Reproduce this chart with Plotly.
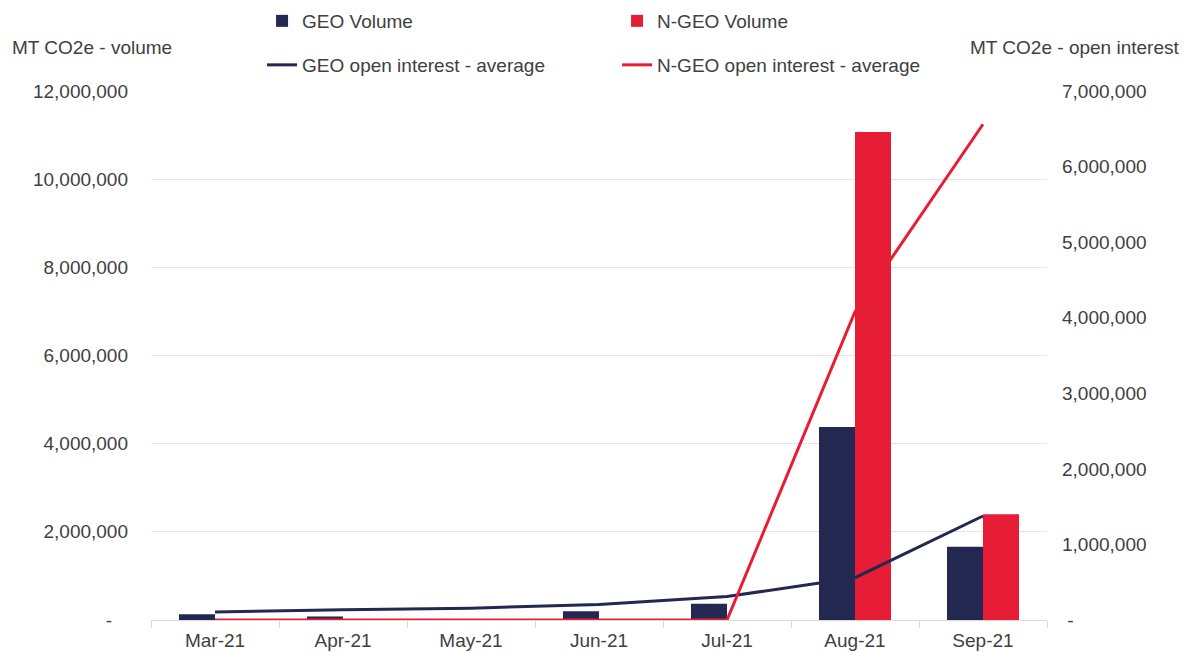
import plotly.graph_objects as go

months = ['Mar-21', 'Apr-21', 'May-21', 'Jun-21', 'Jul-21', 'Aug-21', 'Sep-21']

geo_volume = [130000, 80000, 0, 200000, 370000, 4380000, 1660000]
ngeo_volume = [0, 0, 0, 0, 0, 11070000, 2400000]

geo_oi_avg = [105000, 136000, 157000, 205000, 310000, 560000, 1376000]
ngeo_oi_avg = [0, 0, 0, 0, 0, 4080000, 6560000]

left_ticks = [0, 2000000, 4000000, 6000000, 8000000, 10000000, 12000000]
left_labels = ['-&nbsp;&nbsp;&nbsp;', '2,000,000', '4,000,000', '6,000,000', '8,000,000', '10,000,000', '12,000,000']
right_ticks = [0, 1000000, 2000000, 3000000, 4000000, 5000000, 6000000, 7000000]
right_labels = ['&nbsp;-', '1,000,000', '2,000,000', '3,000,000', '4,000,000', '5,000,000', '6,000,000', '7,000,000']

navy = '#232850'
red = '#e71d36'
txt = '#404040'
font_family = 'Liberation Sans, Arial, sans-serif'

fig = go.Figure()

fig.add_trace(go.Bar(x=months, y=geo_volume, name='GEO Volume',
                     marker=dict(color=navy, line=dict(width=0)), legend='legend'))
fig.add_trace(go.Bar(x=months, y=ngeo_volume, name='N-GEO Volume',
                     marker=dict(color=red, line=dict(width=0)), legend='legend'))

fig.add_trace(go.Scatter(x=months, y=geo_oi_avg, name='GEO open interest - average',
                         mode='lines', line=dict(color=navy, width=3), yaxis='y2', legend='legend2'))
fig.add_trace(go.Scatter(x=months, y=ngeo_oi_avg, name='N-GEO open interest - average',
                         mode='lines', line=dict(color=red, width=3), yaxis='y2', legend='legend2'))

# legends placed in container coords so they do not push the margins
fig.update_layout(
    width=1189, height=652,
    margin=dict(l=151, r=142, t=91, b=32, autoexpand=False),
    paper_bgcolor='white', plot_bgcolor='white',
    font=dict(family=font_family, size=19, color=txt),
    barmode='group', bargap=0.4375, bargroupgap=0,
    showlegend=True,
    legend=dict(orientation='h', xref='container', yref='container',
                x=0.2204, xanchor='left', y=1 - 21 / 652, yanchor='middle',
                entrywidth=310, font=dict(size=19, color=txt), bgcolor='rgba(0,0,0,0)'),
    legend2=dict(orientation='h', xref='container', yref='container',
                 x=0.2204, xanchor='left', y=1 - 65 / 652, yanchor='middle',
                 entrywidth=310, font=dict(size=19, color=txt), bgcolor='rgba(0,0,0,0)'),
    xaxis=dict(type='category', showgrid=False, showline=True, linecolor='#d9d9d9', linewidth=1,
               ticks='outside', tickson='boundaries', ticklen=7, tickcolor='#d9d9d9',
               ticklabelstandoff=3,
               tickfont=dict(size=19, color=txt), automargin=False),
    yaxis=dict(range=[0, 12000000], tickvals=left_ticks, ticktext=left_labels,
               showgrid=True, gridcolor='#e6e6e6', gridwidth=1, zeroline=False,
               showline=False, ticks='', ticklabelstandoff=22,
               tickfont=dict(size=19, color=txt), automargin=False),
    yaxis2=dict(range=[0, 7000000], tickvals=right_ticks, ticktext=right_labels,
                overlaying='y', side='right', showgrid=False, zeroline=False,
                showline=False, ticks='', ticklabelstandoff=14,
                tickfont=dict(size=19, color=txt), automargin=False),
    annotations=[
        dict(text='MT CO2e - volume', xref='paper', yref='paper', x=-0.157, y=1.083,
             xanchor='left', yanchor='middle', showarrow=False, font=dict(size=19, color=txt)),
        dict(text='MT CO2e - open interest', xref='paper', yref='paper', x=1.1495, y=1.083,
             xanchor='right', yanchor='middle', showarrow=False, font=dict(size=19, color=txt)),
    ],
)

fig.write_html('out.html', config={'displayModeBar': False},
               post_script="document.body.style.margin='0px';")
